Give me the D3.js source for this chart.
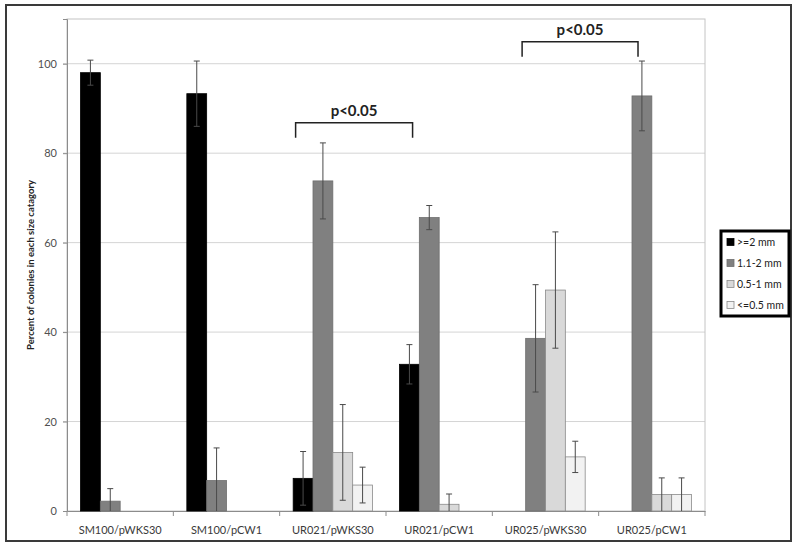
<!DOCTYPE html>
<html>
<head>
<meta charset="utf-8">
<script src="https://cdn.jsdelivr.net/npm/d3@7"></script>
<style>
  body { margin: 0; background: #fff; }
  text { font-family: Lato, "Liberation Sans", sans-serif; }
</style>
</head>
<body>
<script>
// colony size data
const categories = ["SM100/pWKS30", "SM100/pCW1", "UR021/pWKS30", "UR021/pCW1", "UR025/pWKS30", "UR025/pCW1"];
const sizeClasses = [">=2 mm", "1.1-2 mm", "0.5-1 mm", "<=0.5 mm"];

const largeValues  = [98.0, 93.3, 7.3, 32.8, 0, 0];
const mediumValues = [2.2, 6.8, 73.8, 65.6, 38.6, 92.8];
const smallValues  = [0, 0, 13.1, 1.5, 49.4, 3.7];
const tinyValues   = [0, 0, 5.8, 0, 12.1, 3.7];

const largeErrors  = [2.8, 7.3, 6.0, 4.4, 0, 0];
const mediumErrors = [2.8, 7.3, 8.5, 2.7, 12.0, 7.8];
const smallErrors  = [0, 0, 10.7, 2.3, 13.0, 3.7];
const tinyErrors   = [0, 0, 4.0, 0, 3.5, 3.7];

const yTicks = [0, 20, 40, 60, 80, 100];

// significance brackets: [category, offset in band] for each end, height
const brackets = [
  { from: ["UR021/pWKS30", 0.15], to: ["UR021/pCW1", 0.25], y: 86.8, label: "p<0.05" },
  { from: ["UR025/pWKS30", 0.28], to: ["UR025/pCW1", 0.37], y: 104.9, label: "p<0.05" }
];

const seriesValues = [largeValues, mediumValues, smallValues, tinyValues];
const seriesErrors = [largeErrors, mediumErrors, smallErrors, tinyErrors];

const fills   = ["#000000", "#808080", "#d9d9d9", "#f2f2f2"];
const strokes = ["#000000", "#6e6e6e", "#8a8a8a", "#8a8a8a"];

const width = 800, height = 555;
const plot = { left: 67, right: 705, top: 19, bottom: 511 };

const svg = d3.select('body').append('svg')
    .attr('width', width)
    .attr('height', height);

// outer frame
svg.append('rect')
    .attr('x', 6).attr('y', 5)
    .attr('width', 785).attr('height', 536)
    .attr('fill', '#fff')
    .attr('stroke', '#3a3a3a')
    .attr('stroke-width', 2);

const x0 = d3.scaleBand()
    .domain(categories)
    .range([plot.left, plot.right])
    .padding(0);

const x1 = d3.scaleBand()
    .domain(sizeClasses)
    .range([13.5, x0.bandwidth() - 13.5])
    .padding(0);

const y = d3.scaleLinear()
    .domain([0, 110])
    .range([plot.bottom, plot.top]);

// gridlines
svg.append('g')
    .selectAll('line')
    .data(yTicks.filter(d => d > 0))
    .join('line')
    .attr('x1', plot.left - 4).attr('x2', plot.right)
    .attr('y1', d => y(d)).attr('y2', d => y(d))
    .attr('stroke', '#d4d4d4')
    .attr('stroke-width', 1);

// plot area border
svg.append('rect')
    .attr('x', plot.left).attr('y', plot.top)
    .attr('width', plot.right - plot.left)
    .attr('height', plot.bottom - plot.top)
    .attr('fill', 'none')
    .attr('stroke', '#c4c4c4');

// y axis
const yAxis = svg.append('g')
    .attr('transform', `translate(${plot.left},0)`)
    .call(d3.axisLeft(y).tickValues(yTicks).tickSize(4).tickPadding(6));
yAxis.select('.domain').attr('stroke', '#8c8c8c');
yAxis.selectAll('.tick line').attr('stroke', '#8c8c8c');
yAxis.selectAll('.tick text')
    .attr('fill', '#505050')
    .style('font-size', '11px');

// x axis with category separators
const xAxis = svg.append('g')
    .attr('transform', `translate(0,${plot.bottom})`)
    .call(d3.axisBottom(x0).tickSize(0).tickPadding(15));
xAxis.select('.domain').attr('stroke', '#8c8c8c');
xAxis.selectAll('.tick text')
    .attr('fill', '#3a3a3a')
    .style('font-size', '11px');
xAxis.selectAll('line.sep')
    .data(d3.range(categories.length + 1))
    .join('line')
    .attr('class', 'sep')
    .attr('x1', i => plot.left + i * x0.step())
    .attr('x2', i => plot.left + i * x0.step())
    .attr('y1', 0).attr('y2', 5)
    .attr('stroke', '#8c8c8c');

// bars
const rows = [];
categories.forEach((c, i) => {
  sizeClasses.forEach((s, j) => {
    rows.push({ cat: c, size: s, k: j, value: seriesValues[j][i], err: seriesErrors[j][i] });
  });
});

svg.append('g')
    .selectAll('rect')
    .data(rows.filter(d => d.value > 0))
    .join('rect')
    .attr('x', d => x0(d.cat) + x1(d.size))
    .attr('y', d => y(d.value))
    .attr('width', x1.bandwidth())
    .attr('height', d => y(0) - y(d.value))
    .attr('fill', d => fills[d.k])
    .attr('stroke', d => strokes[d.k])
    .attr('stroke-width', 0.8);

// error bars (lower end clipped at the axis)
const lo = d => Math.max(0, d.value - d.err);
const hi = d => d.value + d.err;

const errG = svg.append('g')
    .selectAll('g')
    .data(rows.filter(d => d.value > 0 && d.err > 0))
    .join('g')
    .attr('transform', d => `translate(${x0(d.cat) + x1(d.size) + x1.bandwidth() / 2},0)`)
    .attr('stroke', '#4a4a4a')
    .attr('stroke-width', 1);

errG.append('line')
    .attr('y1', d => y(lo(d)))
    .attr('y2', d => y(hi(d)));
errG.append('line')
    .attr('x1', -3).attr('x2', 3)
    .attr('y1', d => y(hi(d)))
    .attr('y2', d => y(hi(d)));
errG.filter(d => d.value - d.err > 0).append('line')
    .attr('x1', -3).attr('x2', 3)
    .attr('y1', d => y(lo(d)))
    .attr('y2', d => y(lo(d)));

// significance brackets
const bx = e => x0(e[0]) + e[1] * x0.bandwidth();
const bG = svg.append('g')
    .selectAll('g')
    .data(brackets)
    .join('g');

bG.append('path')
    .attr('d', d => {
      const yTop = y(d.y), yEnd = yTop + 15;
      return `M${bx(d.from)},${yEnd}V${yTop}H${bx(d.to)}V${yEnd}`;
    })
    .attr('fill', 'none')
    .attr('stroke', '#222')
    .attr('stroke-width', 1.5);

bG.append('text')
    .attr('x', d => (bx(d.from) + bx(d.to)) / 2)
    .attr('y', d => y(d.y) - 7)
    .attr('text-anchor', 'middle')
    .attr('fill', '#222')
    .style('font-size', '15px')
    .style('font-weight', 'bold')
    .text(d => d.label);

// y axis title
svg.append('text')
    .attr('transform', `translate(34,${(plot.top + plot.bottom) / 2}) rotate(-90)`)
    .attr('text-anchor', 'middle')
    .attr('fill', '#222')
    .style('font-size', '9.5px')
    .style('font-weight', 'bold')
    .text('Percent  of colonies in each size catagory');

// legend
const legend = svg.append('g')
    .attr('transform', 'translate(721,231)');

legend.append('rect')
    .attr('width', 68).attr('height', 85)
    .attr('fill', '#fff')
    .attr('stroke', '#000')
    .attr('stroke-width', 3);

const item = legend.selectAll('g.item')
    .data(sizeClasses)
    .join('g')
    .attr('class', 'item')
    .attr('transform', (d, i) => `translate(6,${11 + i * 21})`);

item.append('rect')
    .attr('y', -3.5)
    .attr('width', 7).attr('height', 7)
    .attr('fill', (d, i) => fills[i])
    .attr('stroke', (d, i) => strokes[i])
    .attr('stroke-width', 0.8);

item.append('text')
    .attr('x', 10)
    .attr('dy', '0.35em')
    .attr('fill', '#222')
    .style('font-size', '10.5px')
    .text(d => d);
</script>
</body>
</html>
